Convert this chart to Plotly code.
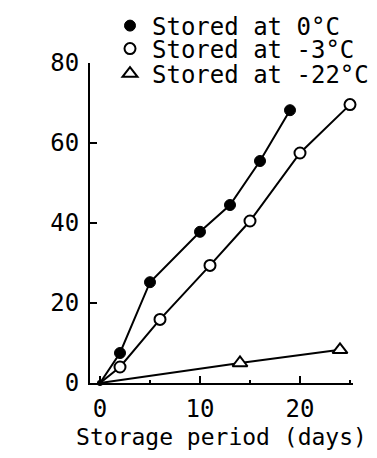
import plotly.graph_objects as go

# Data (storage period in days, K value in %)
days_0C = [0, 2, 5, 10, 13, 16, 19]
k_0C = [0, 7.5, 25.2, 37.8, 44.5, 55.5, 68.2]

days_m3C = [0, 2, 6, 11, 15, 20, 25]
k_m3C = [0, 4.0, 15.9, 29.4, 40.5, 57.5, 69.6]

days_m22C = [0, 14, 24]
k_m22C = [0, 5.0, 8.3]

names = ["Stored at 0°C", "Stored at -3°C", "Stored at -22°C"]

FONT = "DejaVu Sans Mono"
BLACK = "black"

# page body has an 8px default margin; figure is sized to fit inside the window
W, H = 361, 442

styles = [
    dict(symbol="circle", size=11, color=BLACK, line=dict(color=BLACK, width=1)),
    dict(symbol="circle", size=11, color="white", line=dict(color=BLACK, width=2)),
    dict(symbol="triangle-up", size=13, color="white", line=dict(color=BLACK, width=2)),
]
series = [(days_0C, k_0C), (days_m3C, k_m3C), (days_m22C, k_m22C)]
legend_ids = ["legend", "legend2", "legend3"]

fig = go.Figure()

for (xs, ys), st, nm, lg in zip(series, styles, names, legend_ids):
    sz = [4] + [st["size"]] * (len(xs) - 1)
    m = dict(st)
    m["size"] = sz
    m["opacity"] = 1
    fig.add_trace(go.Scatter(
        x=xs, y=ys, name=nm, mode="lines+markers",
        line=dict(color=BLACK, width=2),
        marker=m, cliponaxis=False, showlegend=False,
    ))
    # legend-only entry (marker symbol only, like the reference key)
    lm = dict(st)
    lm["opacity"] = 1
    fig.add_trace(go.Scatter(
        x=[None], y=[None], name=nm, mode="markers",
        marker=lm, showlegend=True, legend=lg,
    ))

leg_y = [1 - 18 / H, 1 - 41 / H, 1 - 66 / H]
leg_common = dict(
    x=100 / W, xref="container", yref="container", xanchor="left", yanchor="middle",
    bgcolor="rgba(0,0,0,0)", borderwidth=0,
    font=dict(family=FONT, size=24, color=BLACK),
    itemwidth=34,
)

fig.update_layout(
    width=W, height=H,
    margin=dict(l=82, r=16, t=55, b=67, autoexpand=False),
    paper_bgcolor="white", plot_bgcolor="white",
    font=dict(family=FONT, size=24, color=BLACK),
    showlegend=True,
    legend=dict(y=leg_y[0], **leg_common),
    legend2=dict(y=leg_y[1], **leg_common),
    legend3=dict(y=leg_y[2], **leg_common),
    xaxis=dict(
        range=[-1, 25.3], automargin=True,
        showline=True, linecolor=BLACK, linewidth=2,
        showgrid=False, zeroline=False,
        ticks="inside", ticklen=7, tickwidth=2, tickcolor=BLACK,
        tickvals=[0, 10, 20], ticktext=["0", "10", "20"],
        minor=dict(tickvals=[5, 15, 25], ticks="inside", ticklen=3, tickwidth=2, tickcolor=BLACK),
        tickfont=dict(size=24),
        ticklabelstandoff=3,
        title=dict(text="Storage period (days)", font=dict(size=23), standoff=10),
    ),
    yaxis=dict(
        range=[0, 80], automargin=False,
        showline=True, linecolor=BLACK, linewidth=2,
        showgrid=False, zeroline=False,
        ticks="inside", ticklen=7, tickwidth=2, tickcolor=BLACK,
        tickvals=[0, 20, 40, 60, 80],
        tickfont=dict(size=24),
        ticklabelstandoff=4,
        title=dict(text="K value (%)", font=dict(size=24), standoff=22),
    ),
)

fig.write_html("out.html")
